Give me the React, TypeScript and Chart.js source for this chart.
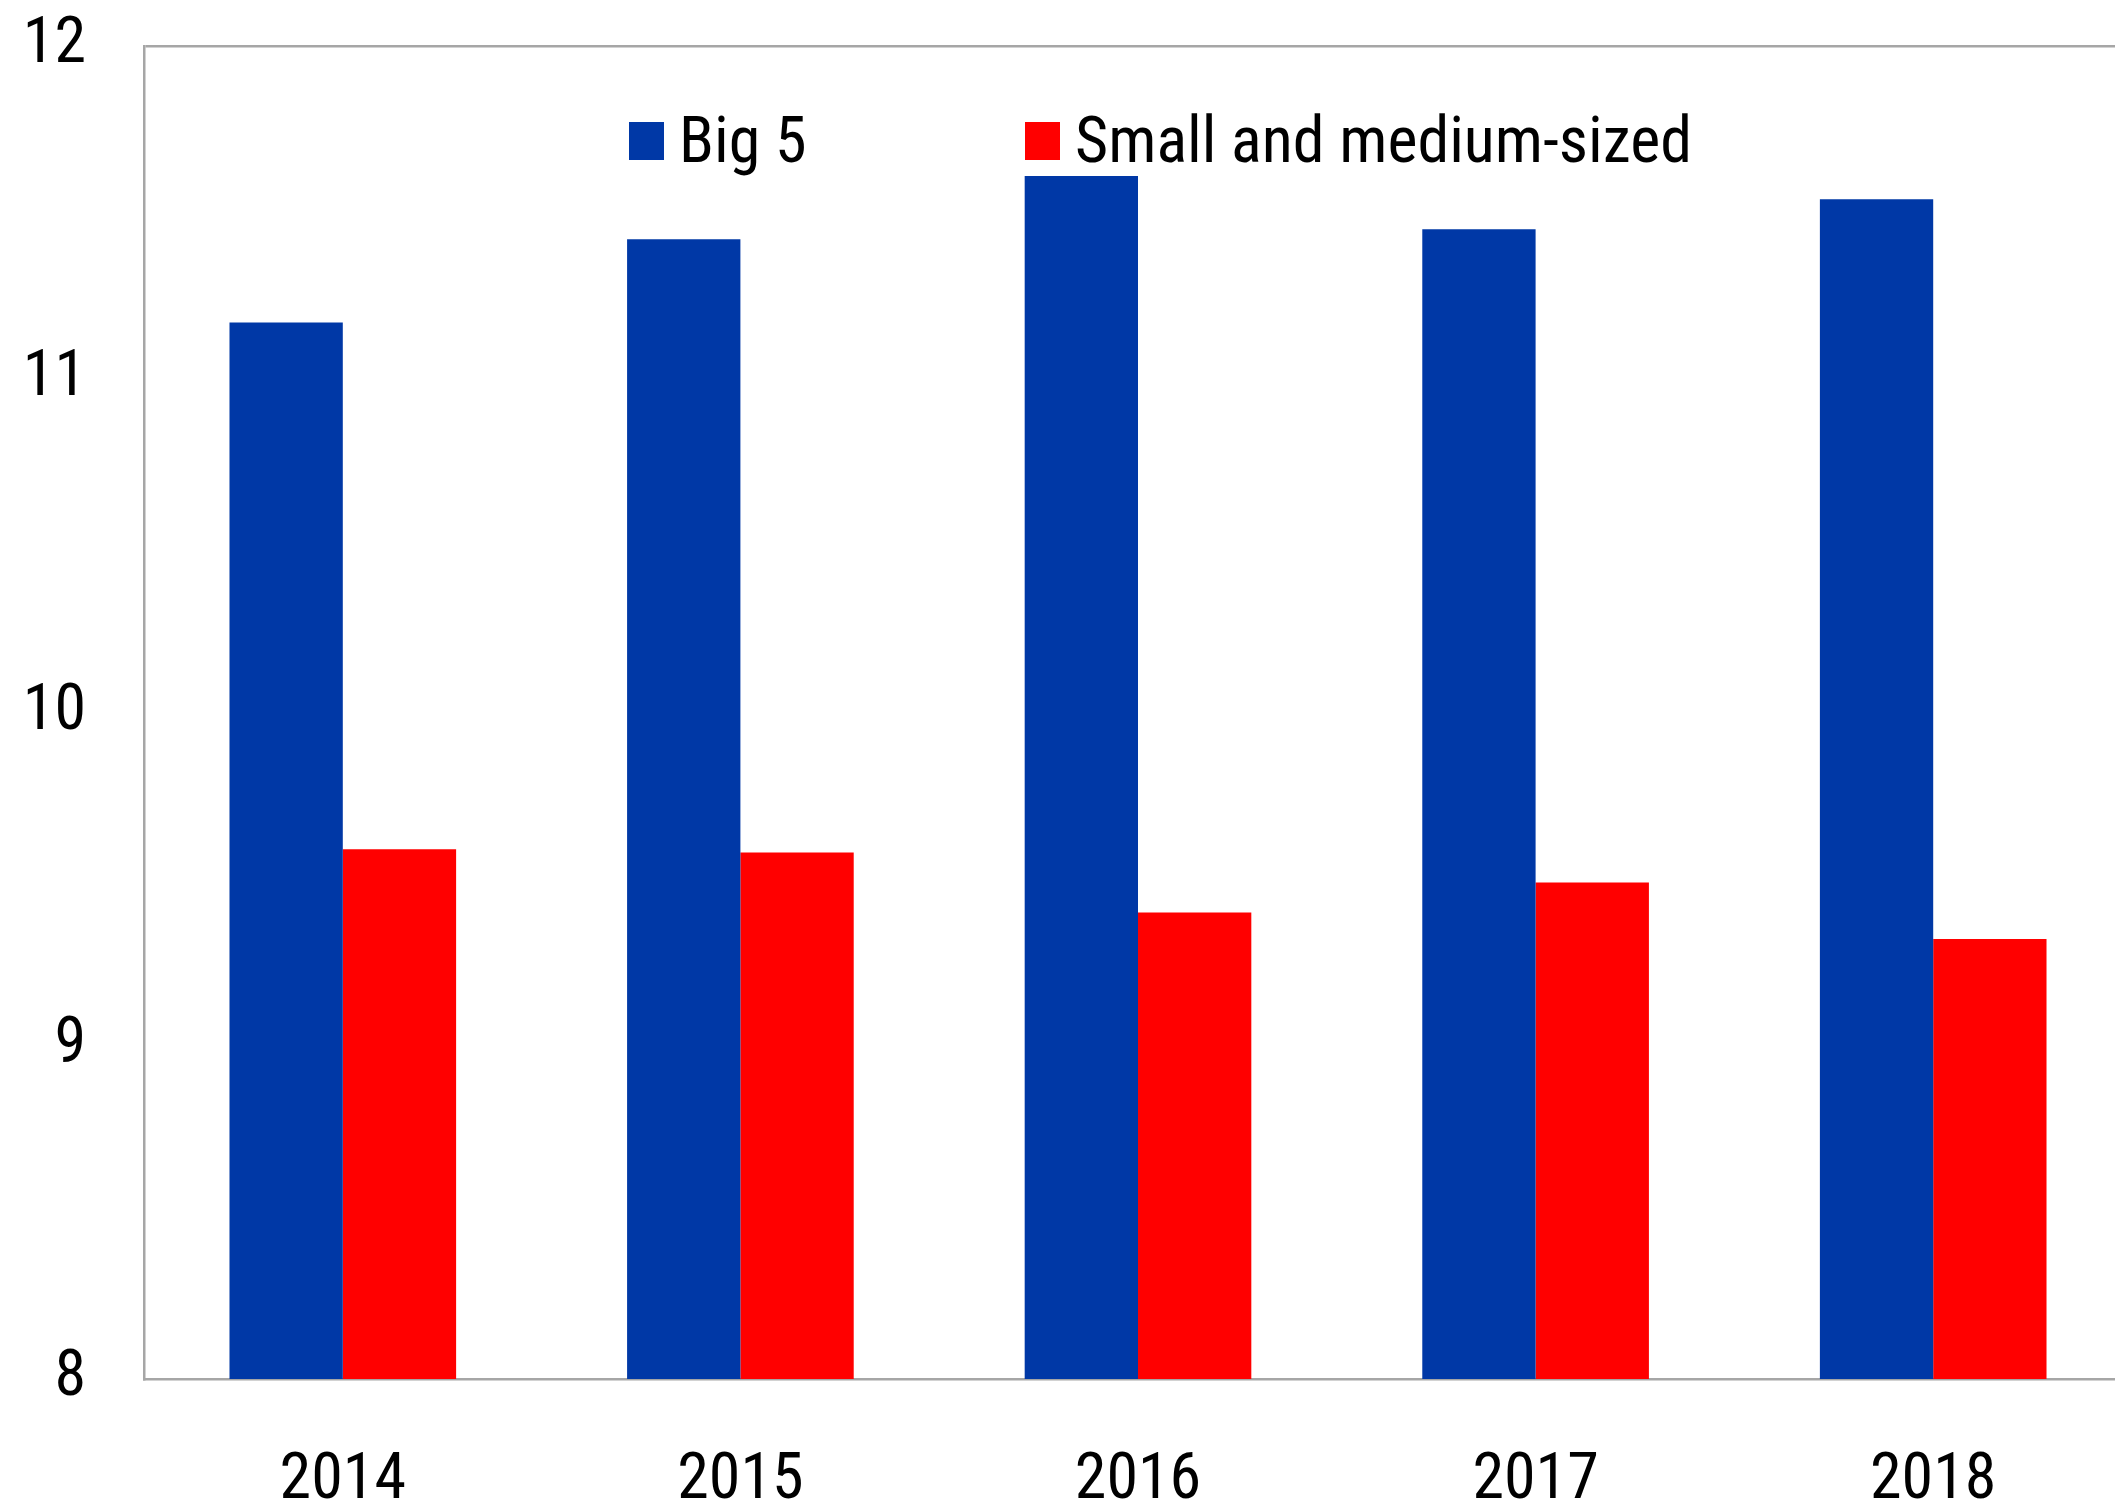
import React, { useEffect, useRef } from "react";
import { Chart, registerables } from "chart.js";

Chart.register(...registerables);

const categories = ["2014", "2015", "2016", "2017", "2018"];
const big5Values = [11.17, 11.42, 11.61, 11.45, 11.54];
const smallMediumValues = [9.59, 9.58, 9.4, 9.49, 9.32];
const seriesLabels = ["Big 5", "Small and medium-sized"];
const yTickValues = [8, 9, 10, 11, 12];

const FONT_FAMILY = "'Roboto Condensed', 'Liberation Sans Narrow', 'DejaVu Sans Condensed', sans-serif";
const BLUE = "#0038A6";
const RED = "#FF0000";
const BORDER = "#A6A6A6";
const CANVAS_W = 2140;
const CANVAS_H = 1507;

const insideLegend = {
  id: "insideLegend",
  afterDraw(chart: any) {
    const ctx = chart.ctx;
    const area = chart.chartArea;
    const itemX = [area.left + 485, area.left + 881];
    const boxW = 35;
    const boxH = 38;
    const cy = area.top + 95;
    ctx.save();
    ctx.font = `64px ${FONT_FAMILY}`;
    ctx.textBaseline = "middle";
    ctx.textAlign = "left";
    chart.data.datasets.forEach((ds: any, i: number) => {
      const x = itemX[i];
      ctx.fillStyle = ds.backgroundColor;
      ctx.fillRect(x, cy - boxH / 2, boxW, boxH);
      ctx.fillStyle = "#000";
      ctx.fillText(ds.label, x + boxW + 15, cy + 5);
    });
    ctx.restore();
  },
};

export default function App() {
  const ref = useRef<HTMLCanvasElement | null>(null);

  useEffect(() => {
    if (!ref.current) return;
    const chart = new Chart(ref.current, {
      type: "bar",
      data: {
        labels: categories,
        datasets: [
          {
            label: seriesLabels[0],
            data: big5Values,
            backgroundColor: BLUE,
            borderWidth: 0,
            categoryPercentage: 0.57,
            barPercentage: 1,
          },
          {
            label: seriesLabels[1],
            data: smallMediumValues,
            backgroundColor: RED,
            borderWidth: 0,
            categoryPercentage: 0.57,
            barPercentage: 1,
          },
        ],
      },
      options: {
        animation: false,
        responsive: false,
        maintainAspectRatio: false,
        layout: { padding: { top: 0, right: 8, bottom: 0, left: 0 } },
        plugins: {
          legend: { display: false },
          tooltip: { enabled: false },
          title: { display: false },
        },
        scales: {
          x: {
            grid: { display: false, drawTicks: false },
            border: { display: true, color: BORDER, width: 2.5 },
            ticks: {
              color: "#000",
              padding: 65,
              font: { family: FONT_FAMILY, size: 64 },
              maxRotation: 0,
            },
            afterFit: (scale: any) => {
              scale.height = 128;
              scale.paddingLeft = 0;
              scale.paddingRight = 0;
            },
          },
          y: {
            min: 8,
            max: 12,
            afterBuildTicks: (scale: any) => {
              scale.ticks = yTickValues.map((v) => ({ value: v }));
            },
            grid: {
              drawTicks: false,
              color: (c: any) => (c.tick && c.tick.value === 12 ? BORDER : "rgba(0,0,0,0)"),
              lineWidth: 2.5,
            },
            border: { display: true, color: BORDER, width: 2.5 },
            ticks: {
              color: "#000",
              padding: 58,
              font: { family: FONT_FAMILY, size: 64 },
            },
            afterFit: (scale: any) => {
              scale.width = 144;
              scale.paddingTop = 46;
              scale.paddingBottom = 0;
            },
          },
        },
      },
      plugins: [insideLegend],
    });
    return () => chart.destroy();
  }, []);

  return (
    <div
      style={{
        position: "fixed",
        left: 0,
        top: 0,
        width: "2115px",
        height: "1507px",
        overflow: "hidden",
        background: "#fff",
      }}
    >
      <canvas
        ref={ref}
        width={CANVAS_W}
        height={CANVAS_H}
        style={{ display: "block", width: `${CANVAS_W}px`, height: `${CANVAS_H}px` }}
      />
    </div>
  );
}
